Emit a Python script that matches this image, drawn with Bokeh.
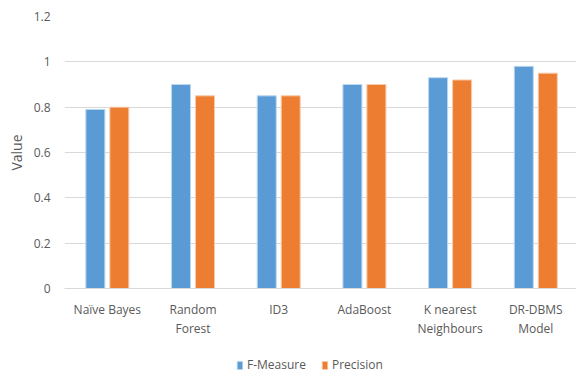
from bokeh.plotting import figure
from bokeh.models import Legend, LegendItem, ColumnDataSource, LinearAxis, FixedTicker
from bokeh.layouts import column
from bokeh.transform import dodge
from bokeh.embed import file_html
from bokeh.resources import INLINE

categories = ["Naïve Bayes", "Random Forest", "ID3", "AdaBoost", "K nearest Neighbours", "DR-DBMS Model"]
label_line1 = ["Naïve Bayes", "Random", "ID3", "AdaBoost", "K nearest", "DR-DBMS"]
label_line2 = ["", "Forest", "", "", "Neighbours", "Model"]
f_measure = [0.79, 0.90, 0.85, 0.90, 0.93, 0.98]
precision = [0.80, 0.85, 0.85, 0.90, 0.92, 0.95]
series_names = ["F-Measure", "Precision"]
y_ticks = [0, 0.2, 0.4, 0.6, 0.8, 1.0, 1.2]
y_tick_labels = ["0", "0.2", "0.4", "0.6", "0.8", "1", "1.2"]

BLUE = "#5B9BD5"
ORANGE = "#ED7D31"
BLUE_EDGE = "#BDD7EE"
ORANGE_EDGE = "#F8CBAD"
TXT = "#595959"
FONT = "Open Sans"

n = len(categories)
xpos = list(range(n))
src = ColumnDataSource(dict(x=xpos, f=f_measure, p=precision))

p = figure(width=576, height=346, x_range=(-0.5, n - 0.525), y_range=(0, 1.2),
           output_backend="svg", toolbar_location=None,
           min_border_left=64, min_border_right=0, min_border_top=16, min_border_bottom=58)
p.outline_line_color = None

r1 = p.vbar(x=dodge("x", -0.14), top="f", width=0.222, source=src,
            fill_color=BLUE, line_color=BLUE_EDGE, line_width=1)
r2 = p.vbar(x=dodge("x", 0.14), top="p", width=0.222, source=src,
            fill_color=ORANGE, line_color=ORANGE_EDGE, line_width=1)

p.xgrid.grid_line_color = None
p.ygrid.grid_line_color = "#D9D9D9"
p.ygrid.grid_line_width = 1
ya = p.yaxis[0]
ya.ticker = FixedTicker(ticks=y_ticks)
ya.major_label_overrides = dict(zip(y_ticks, y_tick_labels))
ya.axis_line_color = None
ya.major_tick_line_color = None
ya.minor_tick_line_color = None
ya.major_tick_out = 0
ya.major_tick_in = 0
ya.major_label_text_color = TXT
ya.major_label_text_font = FONT
ya.major_label_text_font_size = "12px"
ya.major_label_standoff = 14
ya.axis_label = "Value"
ya.axis_label_text_font = FONT
ya.axis_label_text_font_style = "normal"
ya.axis_label_text_font_size = "14px"
ya.axis_label_text_color = TXT
ya.axis_label_standoff = 5

xa = p.xaxis[0]
xa.ticker = FixedTicker(ticks=xpos)
xa.axis_line_color = "#D9D9D9"
xa.major_tick_line_color = None
xa.minor_tick_line_color = None
xa.major_tick_out = 0
xa.major_tick_in = 0
xa.major_label_overrides = dict(zip(xpos, label_line1))
xa.major_label_text_color = TXT
xa.major_label_text_font = FONT
xa.major_label_text_font_size = "12px"
xa.major_label_standoff = 12

xa2 = LinearAxis(ticker=FixedTicker(ticks=xpos), axis_line_color=None,
                 major_tick_line_color=None, minor_tick_line_color=None,
                 major_tick_out=0, major_tick_in=0,
                 major_label_overrides=dict(zip(xpos, label_line2)),
                 major_label_text_color=TXT, major_label_text_font=FONT,
                 major_label_text_font_size="12px", major_label_standoff=-1)
p.add_layout(xa2, "below")

# legend strip below the chart
leg = figure(width=576, height=30, output_backend="svg", toolbar_location=None,
             x_range=(0, 1), y_range=(0, 1), x_axis_type=None, y_axis_type=None,
             min_border_left=0, min_border_right=0, min_border_top=0, min_border_bottom=0)
leg.outline_line_color = None
leg.grid.visible = False
hidden = ColumnDataSource(dict(x=[5], top=[5]))
lr1 = leg.vbar(x="x", top="top", width=0.1, source=hidden, fill_color=BLUE, line_color=BLUE_EDGE)
lr2 = leg.vbar(x="x", top="top", width=0.1, source=hidden, fill_color=ORANGE, line_color=ORANGE_EDGE)
legend = Legend(items=[LegendItem(label=series_names[0], renderers=[lr1]),
                       LegendItem(label=series_names[1], renderers=[lr2])],
                orientation="horizontal", location=(172, 3),
                background_fill_alpha=0, border_line_color=None,
                glyph_width=7, glyph_height=10, label_text_font=FONT,
                label_text_font_size="12px", label_text_color=TXT,
                spacing=15, label_standoff=4, padding=0, margin=0)
leg.add_layout(legend, "center")

open("out.html", "w").write(file_html(column(p, leg, spacing=0), INLINE))
